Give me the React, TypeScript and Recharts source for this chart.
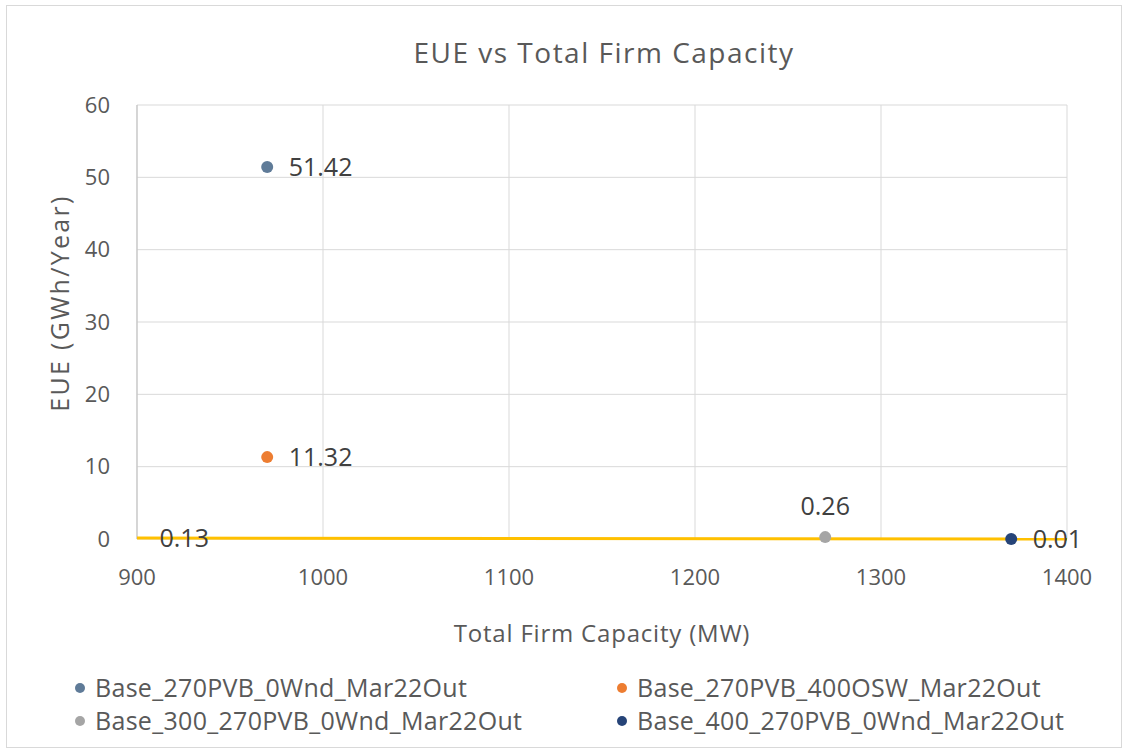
import React from 'react';
import { ScatterChart, Scatter, XAxis, YAxis, CartesianGrid, LabelList, Legend } from 'recharts';

const FONT = '"Open Sans", "Noto Sans", sans-serif';
const TEXT = '#595959';

const seriesNames = [
  'Base_270PVB_0Wnd_Mar22Out',
  'Base_270PVB_400OSW_Mar22Out',
  'Base_300_270PVB_0Wnd_Mar22Out',
  'Base_400_270PVB_0Wnd_Mar22Out',
];
const seriesColors = ['#5f7b98', '#ED7D31', '#A5A5A5', '#264478'];
const seriesX = [970, 970, 1270, 1370];
const seriesY = [51.42, 11.32, 0.26, 0.01];
const seriesLabels = ['51.42', '11.32', '0.26', '0.01'];
const labelPositions = ['right', 'right', 'top', 'right'];

const baseLineX = [900, 1400];
const baseLineY = [0.13, 0];
const baseLineLabels = ['0.13', ''];

const xTicks = [900, 1000, 1100, 1200, 1300, 1400];
const yTicks = [0, 10, 20, 30, 40, 50, 60];

const baseLineData = baseLineX.map((x, i) => ({ x, y: baseLineY[i], label: baseLineLabels[i] }));

const LegendContent = () => (
  <div style={{ position: 'relative', width: 1128, height: 70, fontFamily: FONT, fontSize: 25, color: TEXT, letterSpacing: 0.3 }}>
    {seriesNames.map((n, i) => {
      const col = i % 2;
      const row = Math.floor(i / 2);
      return (
        <div
          key={n}
          style={{
            position: 'absolute',
            left: col === 0 ? 75 : 617,
            top: row * 33,
            height: 33,
            lineHeight: '33px',
            display: 'flex',
            alignItems: 'center',
            whiteSpace: 'nowrap',
          }}
        >
          <span
            style={{
              display: 'inline-block',
              width: 10,
              height: 10,
              borderRadius: 5,
              background: seriesColors[i],
              marginRight: 10,
            }}
          />
          <span>{n}</span>
        </div>
      );
    })}
  </div>
);

const YLabel = () => {
  const cx = 59;
  const cy = 303;
  return (
    <text
      x={cx}
      y={cy}
      transform={`rotate(-90, ${cx}, ${cy})`}
      textAnchor="middle"
      dominantBaseline="central"
      fontFamily={FONT}
      fontSize={25}
      letterSpacing={2.3}
      fill={TEXT}
    >
      EUE (GWh/Year)
    </text>
  );
};

const labelStyle = { fontFamily: FONT, fontSize: 25, fill: '#404040' };

export default function App() {
  return (
    <div style={{ position: 'absolute', left: 0, top: 0, width: 1128, height: 751, background: '#fff' }}>
      <div
        style={{
          position: 'absolute',
          left: 6,
          top: 5,
          width: 1116,
          height: 743,
          border: '1px solid #d9d9d9',
          boxSizing: 'border-box',
        }}
      />
      <div
        style={{
          position: 'absolute',
          left: 139,
          width: 930,
          top: 32,
          textAlign: 'center',
          fontFamily: FONT,
          fontSize: 28,
          letterSpacing: 1.5,
          color: TEXT,
          lineHeight: '40px',
        }}
      >
        EUE vs Total Firm Capacity
      </div>
      <ScatterChart
        width={1128}
        height={751}
        margin={{ top: 105, right: 61, bottom: 102, left: 0 }}
        style={{ position: 'absolute', left: 0, top: 0 }}
      >
        <CartesianGrid stroke="#d9d9d9" strokeWidth={1} />
        <XAxis
          type="number"
          dataKey="x"
          domain={[900, 1400]}
          ticks={xTicks}
          allowDataOverflow
          height={110}
          axisLine={false}
          tickLine={false}
          tickSize={0}
          tickMargin={30}
          tick={{ fontFamily: FONT, fontSize: 22, fill: TEXT }}
          label={{
            value: 'Total Firm Capacity (MW)',
            position: 'insideBottom',
            offset: 7,
            style: { fontFamily: FONT, fontSize: 24, fill: TEXT, letterSpacing: 0.8 },
          }}
        />
        <YAxis
          type="number"
          dataKey="y"
          domain={[0, 60]}
          ticks={yTicks}
          width={137}
          axisLine={{ stroke: '#bfbfbf' }}
          tickLine={false}
          tickSize={0}
          tickMargin={27}
          tick={{ fontFamily: FONT, fontSize: 22, fill: TEXT }}
          label={<YLabel />}
        />
        <Legend
          layout="horizontal"
          verticalAlign="middle"
          align="center"
          wrapperStyle={{ top: 671, left: 0, width: 1128 }}
          content={<LegendContent />}
        />
        <Scatter
          name="base"
          data={baseLineData}
          line={{ stroke: '#FFC000', strokeWidth: 3 }}
          shape={() => null}
          legendType="none"
          isAnimationActive={false}
        >
          <LabelList dataKey="label" position="right" offset={18} style={labelStyle} />
        </Scatter>
        {seriesNames.map((n, i) => (
          <Scatter
            key={n}
            name={n}
            data={[{ x: seriesX[i], y: seriesY[i], label: seriesLabels[i] }]}
            fill={seriesColors[i]}
            shape={(p: any) => <circle cx={p.cx} cy={p.cy} r={6} fill={seriesColors[i]} />}
            isAnimationActive={false}
          >
            <LabelList
              dataKey="label"
              position={labelPositions[i] as any}
              offset={labelPositions[i] === 'top' ? 18 : 17}
              style={labelStyle}
            />
          </Scatter>
        ))}
      </ScatterChart>
    </div>
  );
}
